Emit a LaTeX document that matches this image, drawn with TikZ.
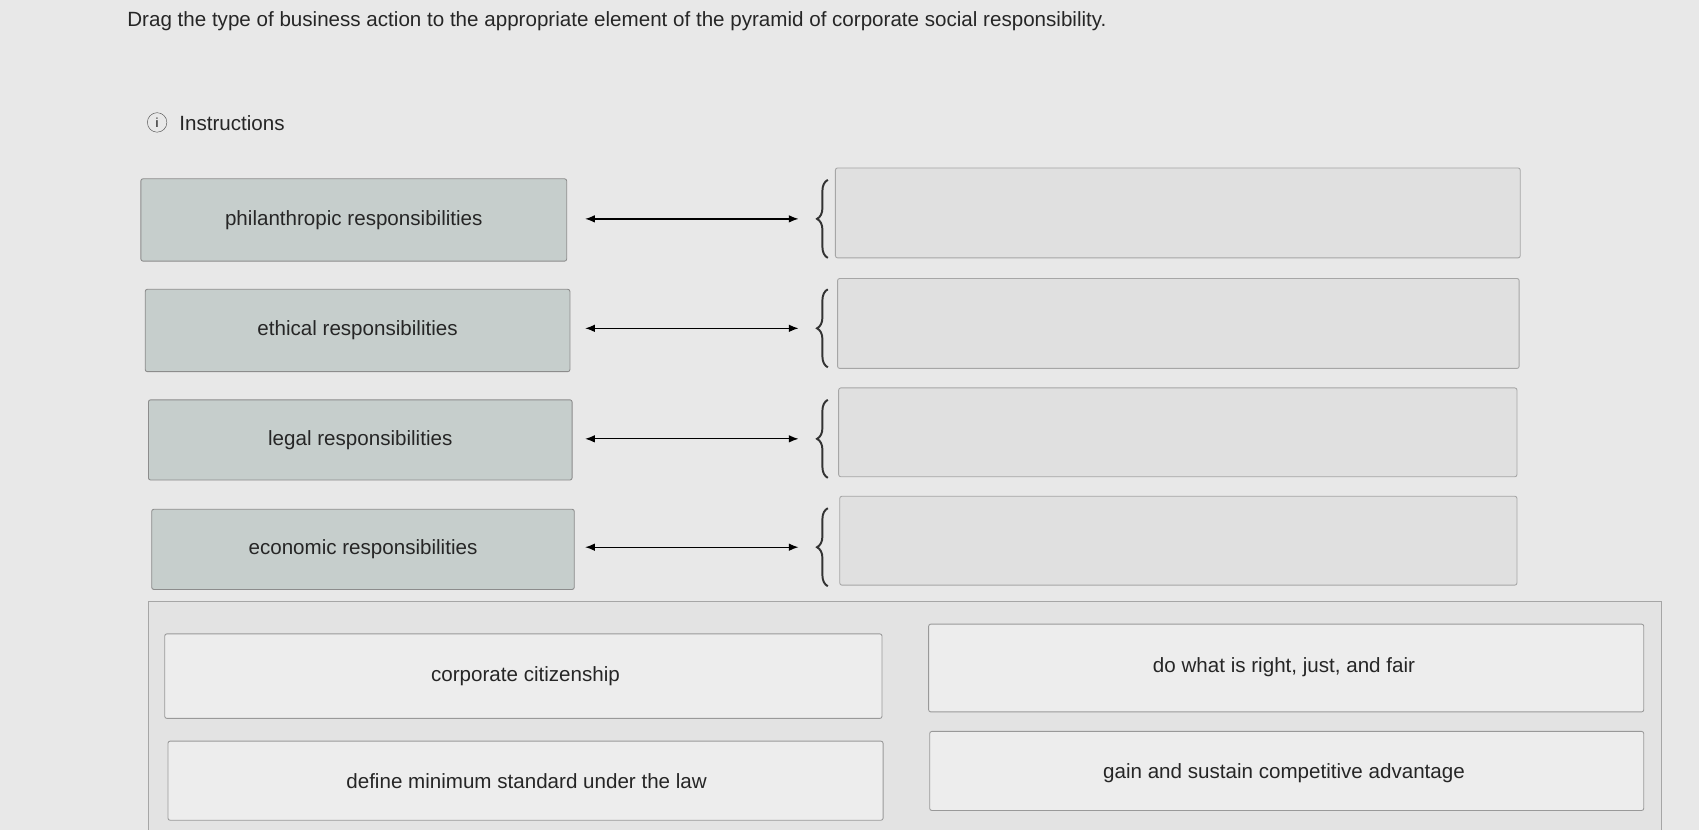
\documentclass[tikz,border=0pt]{standalone}
\usepackage{fontspec}
\setmainfont{Liberation Sans}
\usetikzlibrary{decorations.pathreplacing,arrows.meta}
\definecolor{lfill}{HTML}{C6CECC}
\begin{document}
\begin{tikzpicture}[x=1pt,y=-1pt,
  txt/.style={font=\fontsize{19}{23}\selectfont,text=black!85},
  lbox/.style={draw=black!45,fill=lfill,rounded corners=2pt,line width=0.8pt},
  rbox/.style={draw=black!35,fill=black!12,rounded corners=2pt,line width=0.8pt},
  card/.style={draw=black!40,fill=black!7,rounded corners=2pt,line width=0.8pt},
  conn/.style={{Latex[length=9pt,width=7pt]}-{Latex[length=9pt,width=7pt]},line width=1.2pt},
  br/.style={decorate,decoration={brace,amplitude=10pt},line width=1.8pt,black!80}]
\fill[black!9] (0,0) rectangle (1568,766);
\useasboundingbox (0,0) rectangle (1568,766);
\node[txt,anchor=west] (title) at (114,20) {Drag the type of business action to the appropriate element of the pyramid of corporate social responsibility.};
\node[draw=black!70,circle,inner sep=0pt,minimum size=18pt,font=\fontsize{12}{12}\selectfont] (ic) at (145,113) {i};
\node[txt,anchor=west] (ins) at (162,114) {Instructions};
\foreach \n/\a/\b/\c/\d/\t in {p/130/165/523/241/philanthropic responsibilities,e/134/267/526/343/ethical responsibilities,l/137/369/528/443/legal responsibilities,c/140/470/530/544/economic responsibilities}{
  \draw[lbox] (\a,\b) rectangle (\c,\d);
  \node[txt] (L\n) at ({(\a+\c)/2},{(\b+\d)/2}) {\t};
}
\foreach \n/\a/\b/\c/\d in {p/771/155/1403/238,e/773/257/1402/340,l/774/358/1400/440,c/775/458/1400/540}{
  \draw[rbox] (\a,\b) rectangle (\c,\d);
  \node (R\n) at (\a,{(\b+\d)/2}) {};
}
\foreach \n/\y in {p/202,e/303,l/405,c/505}{
  \coordinate (A\n) at (540,\y); \coordinate (B\n) at (737,\y);
  \draw[conn] (A\n) -- (B\n);
  \coordinate (T\n) at (764,\y-36); \coordinate (U\n) at (764,\y+36);
  \draw[br] (U\n) -- (T\n);
}
\draw[draw=black!35,fill=black!11,line width=0.8pt] (137,555) -- (1533,555) -- (1533,770) -- (137,770) -- cycle;
\draw[card] (152,585) rectangle (814,663); \node[txt] (c1) at (485,624) {corporate citizenship};
\draw[card] (857,576) rectangle (1517,657); \node[txt] (c2) at (1185,616) {do what is right, just, and fair};
\draw[card] (155,684) rectangle (815,757); \node[txt] (c3) at (486,721) {define minimum standard under the law};
\draw[card] (858,675) rectangle (1517,748); \node[txt] (c4) at (1185,714) {gain and sustain competitive advantage};
\end{tikzpicture}
\end{document}
